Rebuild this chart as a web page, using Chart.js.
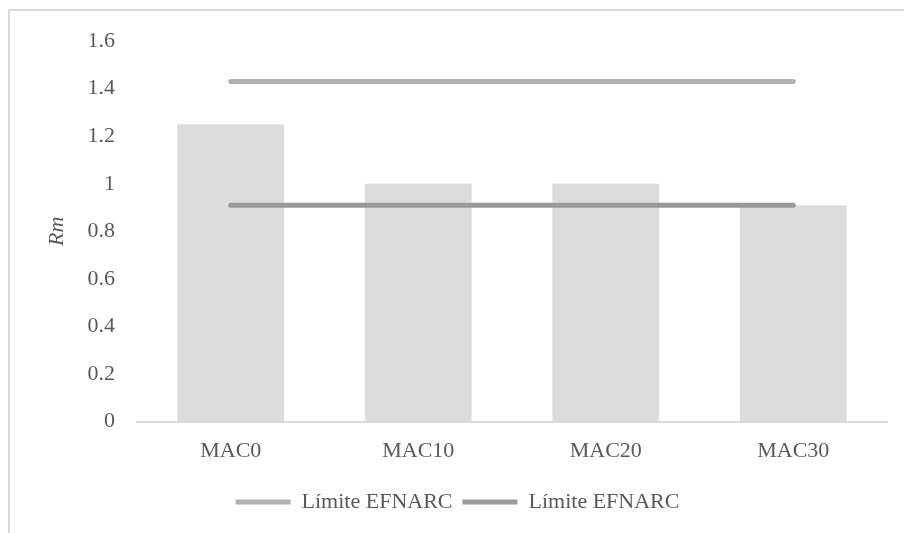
<!DOCTYPE html>
<html>
<head>
<meta charset="utf-8">
<script src="https://cdn.jsdelivr.net/npm/chart.js@4.4.1/dist/chart.umd.min.js"></script>
<style>
    html, body { margin: 0; padding: 0; background: #fff; overflow: hidden; }
    #frame {
        position: absolute; left: 8px; top: 9px; width: 920px; height: 560px;
        border: 2px solid #d9d9d9; box-sizing: border-box;
    }
    #wrap { position: absolute; left: 0; top: 0; width: 904px; height: 533px; }
</style>
</head>
<body>
<div id="frame"></div>
<div id="wrap"><canvas id="chart"></canvas></div>
<script>
const categories = ['MAC0', 'MAC10', 'MAC20', 'MAC30'];
const rmValues = [1.25, 1.0, 1.0, 0.91];
const upperLimit = [1.43, 1.43, 1.43, 1.43];
const lowerLimit = [0.91, 0.91, 0.91, 0.91];
const yTicks = [0, 0.2, 0.4, 0.6, 0.8, 1, 1.2, 1.4, 1.6];

const fontFamily = '"Liberation Serif", "DejaVu Serif", serif';
const textColor = '#595959';

Chart.defaults.font.family = fontFamily;
Chart.defaults.font.size = 22;
Chart.defaults.color = textColor;

const ctx = document.getElementById('chart').getContext('2d');
new Chart(ctx, {
    type: 'bar',
    data: {
        labels: categories,
        datasets: [
            {
                type: 'line',
                label: 'Límite EFNARC',
                data: upperLimit,
                borderColor: '#b0b0b0',
                backgroundColor: '#b0b0b0',
                borderWidth: 5,
                borderCapStyle: 'round',
                pointRadius: 0,
                order: 0,
            },
            {
                type: 'line',
                label: 'Límite EFNARC',
                data: lowerLimit,
                borderColor: '#999999',
                backgroundColor: '#999999',
                borderWidth: 5,
                borderCapStyle: 'round',
                pointRadius: 0,
                order: 1,
            },
            {
                label: 'Rm',
                data: rmValues,
                backgroundColor: '#dcdcdc',
                categoryPercentage: 1,
                barPercentage: 0.57,
                order: 2,
            },
        ],
    },
    options: {
        responsive: true,
        maintainAspectRatio: false,
        animation: false,
        layout: {
            padding: { top: 41, right: 17, bottom: 10, left: 28 },
        },
        plugins: {
            legend: {
                position: 'bottom',
                labels: {
                    usePointStyle: true,
                    pointStyle: 'line',
                    pointStyleWidth: 55,
                    padding: 10,
                    filter: (item) => item.datasetIndex < 2,
                },
            },
            tooltip: { enabled: false },
        },
        scales: {
            x: {
                afterFit: (axis) => {
                    axis.height += 9;
                },
                grid: { display: false },
                border: { color: '#d9d9d9', width: 2 },
                ticks: { padding: 8 },
            },
            y: {
                min: 0,
                max: 1.6,
                afterBuildTicks: (axis) => {
                    axis.ticks = yTicks.map((v) => ({ value: v }));
                },
                afterFit: (axis) => {
                    axis.width = 109;
                },
                grid: { display: false, drawTicks: false },
                border: { display: false },
                ticks: {
                    padding: 22,
                    callback: (value) => String(value),
                },
                title: {
                    display: true,
                    text: 'Rm',
                    font: { style: 'italic', size: 22 },
                    padding: { top: 16, bottom: 0 },
                },
            },
        },
    },
});
</script>
</body>
</html>
